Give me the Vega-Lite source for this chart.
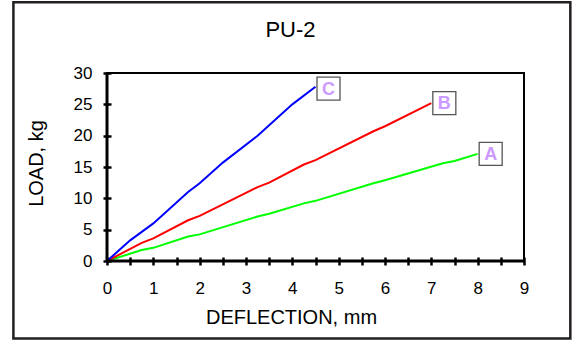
{
  "$schema": "https://vega.github.io/schema/vega-lite/v6.json",
  "width": 417,
  "height": 188,
  "autosize": {"type": "none"},
  "padding": {"left": 107, "top": 73, "right": 50, "bottom": 79},
  "background": "white",
  "title": {"text": "PU-2", "fontSize": 22, "font": "Liberation Sans", "fontWeight": "normal", "color": "#000000", "anchor": "middle", "dx": -25, "dy": 21, "baseline": "alphabetic", "offset": -37},
  "config": {"view": {"stroke": "#000000", "strokeWidth": 2}, "font": "Liberation Sans"},
  "resolve": {"axis": {"x": "independent", "y": "independent"}},
  "datasets": {
    "curves": [
      {"series": "A", "x": 0, "y": 0},
      {"series": "A", "x": 0.75, "y": 1.75},
      {"series": "A", "x": 1, "y": 2.1},
      {"series": "A", "x": 1.75, "y": 3.9},
      {"series": "A", "x": 2, "y": 4.25},
      {"series": "A", "x": 3.25, "y": 7.1},
      {"series": "A", "x": 3.5, "y": 7.55},
      {"series": "A", "x": 4.25, "y": 9.2},
      {"series": "A", "x": 4.5, "y": 9.6},
      {"series": "A", "x": 5.75, "y": 12.4},
      {"series": "A", "x": 6, "y": 12.9},
      {"series": "A", "x": 7.25, "y": 15.6},
      {"series": "A", "x": 7.5, "y": 15.95},
      {"series": "A", "x": 8, "y": 17.1},
      {"series": "B", "x": 0, "y": 0},
      {"series": "B", "x": 0.75, "y": 2.9},
      {"series": "B", "x": 1, "y": 3.6},
      {"series": "B", "x": 1.75, "y": 6.5},
      {"series": "B", "x": 2, "y": 7.2},
      {"series": "B", "x": 3.25, "y": 11.8},
      {"series": "B", "x": 3.5, "y": 12.5},
      {"series": "B", "x": 4.25, "y": 15.4},
      {"series": "B", "x": 4.5, "y": 16.1},
      {"series": "B", "x": 5.75, "y": 20.7},
      {"series": "B", "x": 6, "y": 21.5},
      {"series": "B", "x": 7, "y": 25.2},
      {"series": "C", "x": 0, "y": 0},
      {"series": "C", "x": 0.5, "y": 3.3},
      {"series": "C", "x": 1, "y": 6.0},
      {"series": "C", "x": 1.75, "y": 11.0},
      {"series": "C", "x": 2, "y": 12.4},
      {"series": "C", "x": 2.5, "y": 15.7},
      {"series": "C", "x": 3.25, "y": 20.0},
      {"series": "C", "x": 4, "y": 25.0},
      {"series": "C", "x": 4.5, "y": 27.8}
    ],
    "labels": [
      {"series": "A", "x": 8, "y": 17.1},
      {"series": "B", "x": 7, "y": 25.2},
      {"series": "C", "x": 4.5, "y": 27.5}
    ]
  },
  "layer": [
    {
      "data": {"values": [{}]},
      "mark": {"type": "rect", "filled": false, "stroke": "#231F20", "strokeWidth": 2.5, "clip": false},
      "encoding": {
        "x": {"datum": -2.02, "type": "quantitative", "axis": null},
        "x2": {"datum": 10.0},
        "y": {"datum": 41.3, "type": "quantitative", "axis": null},
        "y2": {"datum": -12.35}
      }
    },
    {
      "data": {"name": "curves"},
      "mark": {"type": "line", "strokeWidth": 2},
      "encoding": {
        "x": {
          "field": "x", "type": "quantitative",
          "scale": {"domain": [0, 9], "nice": false, "zero": false},
          "axis": {
            "values": [0, 0.5, 1, 1.5, 2, 2.5, 3, 3.5, 4, 4.5, 5, 5.5, 6, 6.5, 7, 7.5, 8, 8.5, 9],
            "labelExpr": "datum.value % 1 == 0 ? '' + datum.value : ''",
            "domain": false, "grid": false, "offset": -4,
            "tickSize": 8, "tickWidth": 2.5, "tickColor": "#000000",
            "labelFontSize": 17, "labelColor": "#000000", "labelFont": "Liberation Sans",
            "labelBaseline": "alphabetic", "labelPadding": 28, "labelFlush": false, "labelOverlap": false,
            "title": "DEFLECTION, mm", "titleFontSize": 20, "titleFontWeight": "normal", "titleColor": "#000000",
            "titleFont": "Liberation Sans", "titleX": 184, "titleY": 66, "titleBaseline": "alphabetic", "titleAlign": "center"
          }
        },
        "y": {
          "field": "y", "type": "quantitative",
          "scale": {"domain": [0, 30], "nice": false},
          "axis": {
            "values": [0, 5, 10, 15, 20, 25, 30],
            "domain": false, "grid": false, "offset": -4,
            "tickSize": 8, "tickWidth": 2.5, "tickColor": "#000000",
            "labelFontSize": 17, "labelColor": "#000000", "labelFont": "Liberation Sans",
            "labelBaseline": "middle", "labelPadding": 11, "labelFlush": false, "labelOverlap": false,
            "title": "LOAD, kg", "titleFontSize": 20, "titleFontWeight": "normal", "titleColor": "#000000",
            "titleFont": "Liberation Sans", "titleX": -68.5, "titleY": 90, "titleBaseline": "alphabetic", "titleAlign": "center", "titleAngle": -90
          }
        },
        "color": {
          "field": "series", "type": "nominal",
          "scale": {"domain": ["A", "B", "C"], "range": ["#00FF00", "#FF0000", "#0000FF"]},
          "legend": null
        }
      }
    },
    {
      "data": {"values": [{}]},
      "mark": {"type": "rule", "color": "#000000", "strokeWidth": 3},
      "encoding": {"y": {"datum": 0, "type": "quantitative", "axis": null}}
    },
    {
      "data": {"values": [{}]},
      "mark": {"type": "rule", "color": "#000000", "strokeWidth": 3},
      "encoding": {"x": {"datum": 0, "type": "quantitative", "axis": null}}
    },
    {
      "data": {"name": "labels"},
      "mark": {"type": "point", "shape": "square", "size": 529, "filled": true, "fill": "#FFFFFF", "stroke": "#555555", "strokeWidth": 1.3, "opacity": 1, "xOffset": 13},
      "encoding": {
        "x": {"field": "x", "type": "quantitative", "axis": null},
        "y": {"field": "y", "type": "quantitative", "axis": null}
      }
    },
    {
      "data": {"name": "labels"},
      "mark": {"type": "text", "xOffset": 13, "yOffset": 1, "fontSize": 18, "fontWeight": "bold", "color": "#CC99FF", "align": "center", "baseline": "middle", "font": "Liberation Sans"},
      "encoding": {
        "x": {"field": "x", "type": "quantitative", "axis": null},
        "y": {"field": "y", "type": "quantitative", "axis": null},
        "text": {"field": "series", "type": "nominal"}
      }
    }
  ]
}
